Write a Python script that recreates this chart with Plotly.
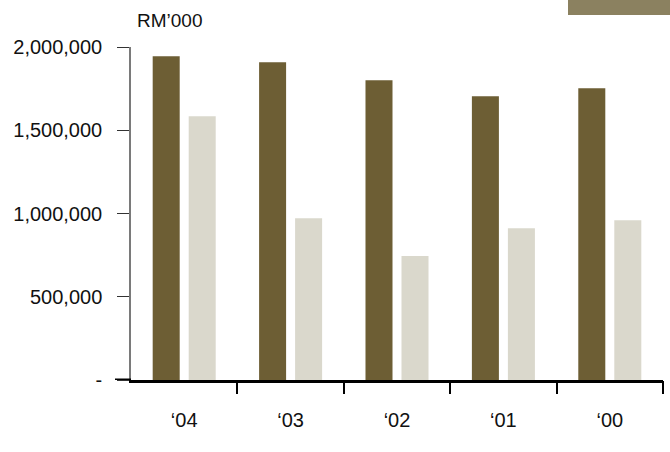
import plotly.graph_objects as go

# Financial years, most recent first
years = ["\u201804", "\u201803", "\u201802", "\u201801", "\u201800"]

# Values in RM'000
group_values = [1944000, 1908000, 1800000, 1704000, 1752000]
company_values = [1584000, 972000, 744000, 912000, 960000]

y_tickvals = [0, 500000, 1000000, 1500000, 2000000]
y_ticktext = ["-", "500,000", "1,000,000", "1,500,000", "2,000,000"]

DARK = "#6d5e34"
LIGHT = "#dad8cc"
FONT = "Liberation Sans, Arial, sans-serif"

W, H = 670, 452
L, R, T, B = 131, 7, 47, 72
plot_w = W - L - R
plot_h = H - T - B

fig = go.Figure()
fig.add_trace(go.Bar(x=years, y=group_values, name="Group",
                     marker=dict(color=DARK, line=dict(width=0))))
fig.add_trace(go.Bar(x=years, y=company_values, name="Company",
                     marker=dict(color=LIGHT, line=dict(width=0))))
# empty trace so the boundary-tick axis is rendered
fig.add_trace(go.Scatter(x=[], y=[], xaxis="x2", showlegend=False,
                         hoverinfo="skip"))

fig.update_layout(
    width=W, height=H,
    margin=dict(l=L, r=R, t=T, b=B, pad=0),
    paper_bgcolor="white", plot_bgcolor="white",
    showlegend=False,
    barmode="group", bargap=0.323, bargroupgap=0.25,
    font=dict(family=FONT, size=20, color="#111111"),
    xaxis=dict(
        type="category", showgrid=False, zeroline=False,
        showline=True, linecolor="#000000", linewidth=3,
        ticks="", ticklabelstandoff=20,
        tickfont=dict(family=FONT, size=20, color="#111111"),
        range=[-0.5, 4.5],
    ),
    xaxis2=dict(
        overlaying="x", anchor="y", side="bottom", type="linear",
        range=[-0.5, 4.5], showgrid=False, zeroline=False,
        showline=False, showticklabels=False,
        tickmode="array", tickvals=[0.5, 1.5, 2.5, 3.5, 4.5],
        ticks="outside", ticklen=13, tickwidth=1.5, tickcolor="#000000",
    ),
    yaxis=dict(
        range=[0, 2000000], showgrid=False, zeroline=False,
        showline=True, linecolor="#7a7a7a", linewidth=1.5,
        tickmode="array", tickvals=y_tickvals, ticktext=y_ticktext,
        ticks="outside", ticklen=12, tickwidth=1.2, tickcolor="#333333",
        ticklabelstandoff=11,
        tickfont=dict(family=FONT, size=20, color="#111111"),
    ),
)

# unit label above the value axis
fig.add_annotation(
    text="RM\u2019000", xref="paper", yref="paper",
    x=(135 - L) / plot_w, y=1 + (T - 21) / plot_h,
    xanchor="left", yanchor="middle", showarrow=False,
    font=dict(family=FONT, size=19, color="#111111"),
)

# baseline extended to the left of the value axis, past the zero tick
fig.add_shape(type="line", xref="paper", yref="y",
              x0=-16 / plot_w, x1=0, y0=0, y1=0,
              line=dict(color="#000000", width=3))

# decorative band in the top-right corner
fig.add_shape(type="rect", xref="paper", yref="paper",
              x0=(568 - L) / plot_w, x1=(W - L + 2) / plot_w,
              y0=1 + (T - 15) / plot_h, y1=1 + (T + 2) / plot_h,
              line=dict(width=0), fillcolor="#8b8160", layer="above")

fig.write_html("out.html")
